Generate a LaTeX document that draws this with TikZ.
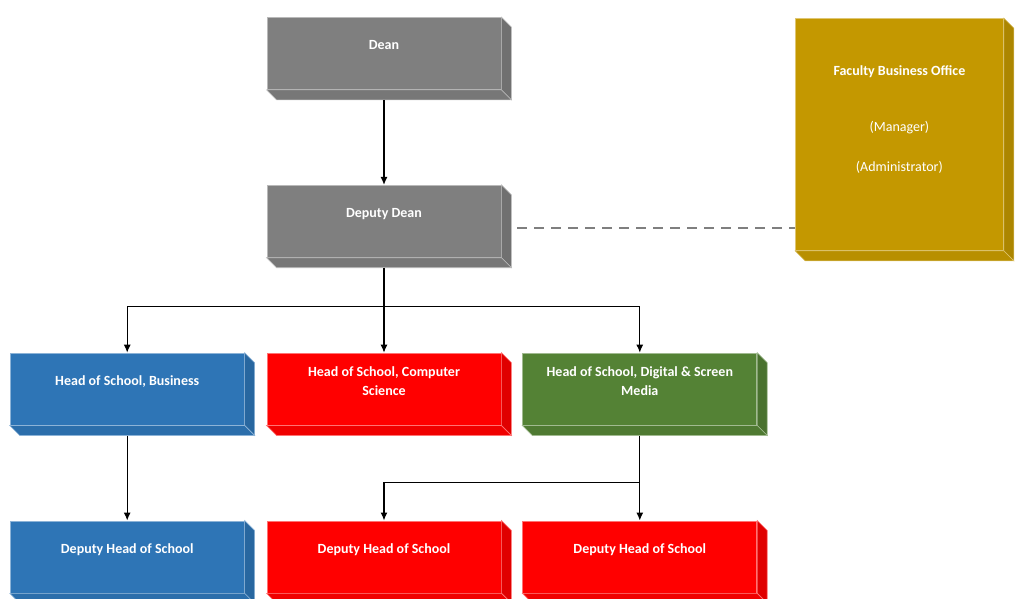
\documentclass[tikz,border=0pt]{standalone}
\usepackage{fontspec}
\setmainfont{Carlito}
\usetikzlibrary{positioning, arrows.meta}

\definecolor{deangray}{RGB}{127,127,127}
\definecolor{schoolblue}{RGB}{46,117,182}
\definecolor{schoolred}{RGB}{255,0,0}
\definecolor{schoolgreen}{RGB}{84,130,53}
\definecolor{officegold}{RGB}{196,152,0}

\tikzset{
  orgbox/.style={rectangle, fill=#1, draw=#1!55!white, line width=0.8pt,
    minimum width=234pt, minimum height=72pt, inner sep=0pt, text=white,
    align=center, font=\fontsize{14}{19}\selectfont\bfseries, text depth=17pt},
  link/.style={-{Latex[length=8pt,width=7pt]}, line width=1.2pt},
  plain/.style={line width=1.2pt},
  dashline/.style={draw=deangray, line width=2.2pt, dash pattern=on 10pt off 7pt}
}

\begin{document}
\begin{tikzpicture}[x=1pt, y=1pt, node distance=95pt and 22pt]
  \useasboundingbox (0,0) rectangle (1018,-599);

  % top
  \node[orgbox=deangray] (dean) at (384,-53.5) {Dean};
  \node[orgbox=deangray, below=of dean] (deputy) {Deputy Dean};
  \node[orgbox=officegold, minimum width=208pt, minimum height=232pt, text depth=31pt,
        anchor=north west] (fbo) at (795,-18)
        {Faculty Business Office\\[37pt]\mdseries (Manager)\\[21pt]\mdseries (Administrator)};

  % schools
  \node[orgbox=schoolred, below=of deputy] (hcs) {Head of School, Computer\\Science};
  \node[orgbox=schoolblue, left=of hcs] (hsb) {Head of School, Business};
  \node[orgbox=schoolgreen, right=21pt of hcs] (hsd) {Head of School, Digital \& Screen\\Media};

  % deputies
  \node[orgbox=schoolblue, below=of hsb] (dhb) {Deputy Head of School};
  \node[orgbox=schoolred, below=of hcs] (dhc) {Deputy Head of School};
  \node[orgbox=schoolred, below=of hsd] (dhd) {Deputy Head of School};

  % depth faces
  \foreach \n/\c in {dean/deangray, deputy/deangray, fbo/officegold,
                     hsb/schoolblue, hcs/schoolred, hsd/schoolgreen,
                     dhb/schoolblue, dhc/schoolred, dhd/schoolred}{
    \filldraw[fill=\c!88!black, draw=\c!55!white, line width=0.6pt]
      (\n.north east) -- ++(10,-10) -- ([shift={(10,-10)}]\n.south east) -- (\n.south east) -- cycle;
    \filldraw[fill=\c!94!black, draw=\c!55!white, line width=0.6pt]
      (\n.south west) -- ++(10,-10) -- ([shift={(10,-10)}]\n.south east) -- (\n.south east) -- cycle;
  }

  \coordinate[below=49pt of deputy] (split);
  \coordinate[below=57pt of hsd] (join);

  \draw[link] ([yshift=-10]dean.south) -- (deputy.north);
  \draw[plain] ([yshift=-10]deputy.south) -- (split);
  \draw[link] (split) -| (hsb.north);
  \draw[link] (split) -| (hsd.north);
  \draw[link] (split) -- (hcs.north);

  \draw[link] ([yshift=-10]hsb.south) -- (dhb.north);
  \draw[plain] ([yshift=-10]hsd.south) -- (join);
  \draw[link] (join) -| (dhc.north);
  \draw[link] (join) -- (dhd.north);

  \draw[dashline] ([shift={(16,-7)}]deputy.east) -- ([yshift=-7]deputy.east -| fbo.west);
\end{tikzpicture}
\end{document}
